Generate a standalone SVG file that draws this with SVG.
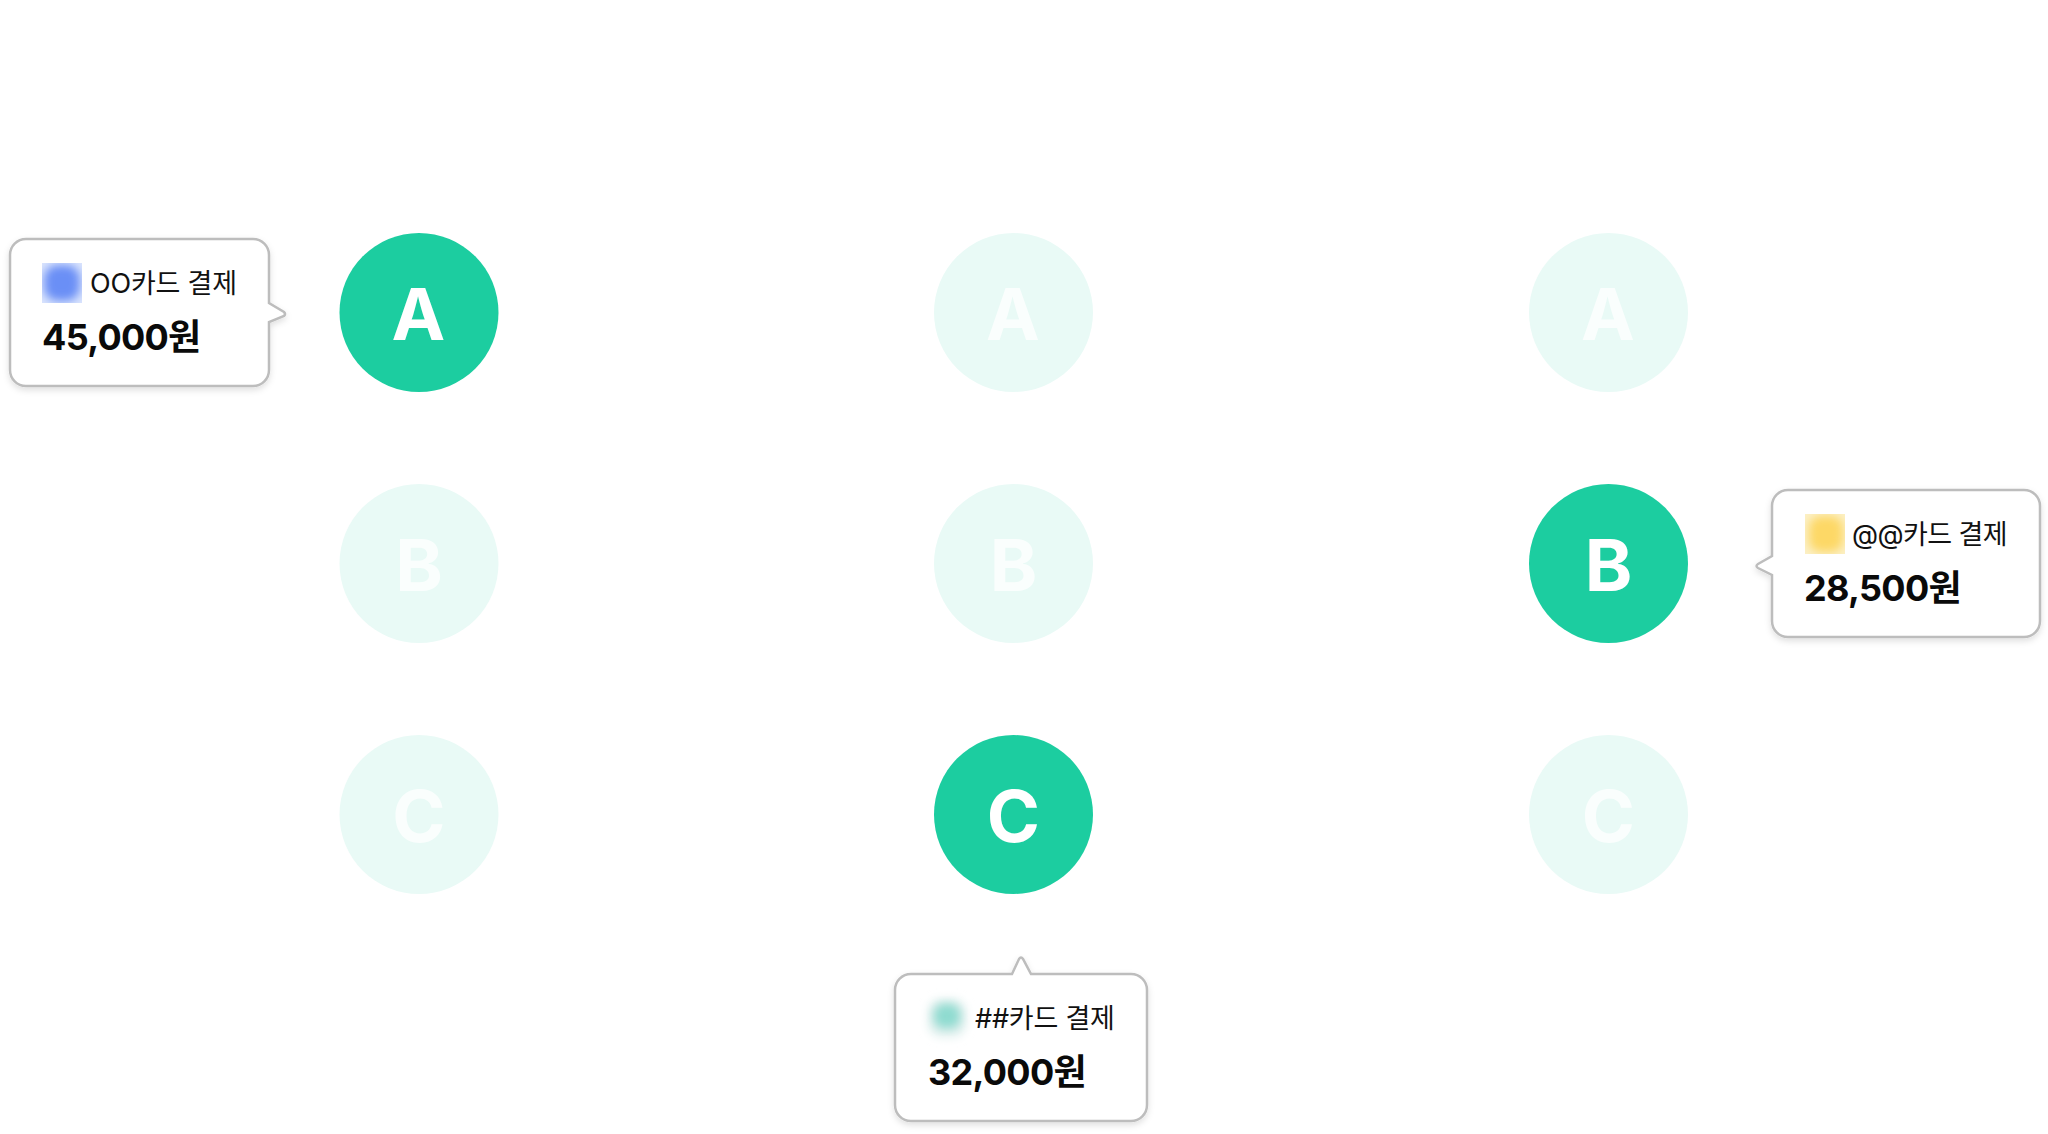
<svg xmlns="http://www.w3.org/2000/svg" width="2048" height="1134" viewBox="0 0 2048 1134">
<style>
.on{fill:#1ccda0}.off{fill:#e9faf6}
.l{font-family:Inter,"Liberation Sans","Noto Sans CJK KR",sans-serif;font-weight:700;font-size:72px;fill:#fff;text-anchor:middle}
.off+.l{fill:#fafefd}
.b{fill:#fff;stroke:#bdbdbd;stroke-width:2.500;filter:url(#sh)}
.t{font-family:Inter,"Noto Sans CJK KR",sans-serif;font-size:27px;letter-spacing:-.2px;fill:#111}
.m{font-family:Inter,"Noto Sans CJK KR",sans-serif;font-size:36px;letter-spacing:-.7px;font-weight:700;fill:#0a0a0a}
</style>
<defs>
<filter id="sh" x="-10%" y="-10%" width="120%" height="125%"><feDropShadow dx="0" dy="3" stdDeviation="3" flood-color="#000" flood-opacity=".12"/></filter>
<filter id="bl" x="-30%" y="-30%" width="160%" height="160%"><feGaussianBlur stdDeviation="5"/></filter>
<clipPath id="c1"><rect x="42" y="263" width="40" height="40"/></clipPath>
<clipPath id="c2"><rect x="1805" y="514" width="40" height="40"/></clipPath>
</defs>
<g id="a1"><circle class="on" cx="419" cy="312.500" r="79.500"/><text class="l" x="418.500" y="340">A</text></g>
<g id="a2"><circle class="off" cx="1013.500" cy="312.500" r="79.500"/><text class="l" x="1013" y="340">A</text></g>
<g id="a3"><circle class="off" cx="1608.500" cy="312.500" r="79.500"/><text class="l" x="1608" y="340">A</text></g>
<g id="b1"><circle class="off" cx="419" cy="563.500" r="79.500"/><text class="l" x="419" y="591">B</text></g>
<g id="b2"><circle class="off" cx="1013.500" cy="563.500" r="79.500"/><text class="l" x="1013.500" y="591">B</text></g>
<g id="b3"><circle class="on" cx="1608.500" cy="563.500" r="79.500"/><text class="l" x="1608.500" y="591">B</text></g>
<g id="c1n"><circle class="off" cx="419" cy="814.500" r="79.500"/><text class="l" x="419" y="842">C</text></g>
<g id="c2n"><circle class="on" cx="1013.500" cy="814.500" r="79.500"/><text class="l" x="1013.500" y="842">C</text></g>
<g id="c3n"><circle class="off" cx="1608.500" cy="814.500" r="79.500"/><text class="l" x="1608.500" y="842">C</text></g>
<g id="tip-oo">
<path class="b" d="M26 239H253a16 16 0 0 1 16 16V303L284 312Q286 314 284 316L269 322V370a16 16 0 0 1-16 16H26a16 16 0 0 1-16-16V255a16 16 0 0 1 16-16Z"/>
<g clip-path="url(#c1)"><rect x="42" y="263" width="40" height="40" fill="#dbe5fd"/><rect x="44" y="265" width="36" height="36" rx="14" fill="#6a8ff6" filter="url(#bl)"/></g>
<text class="t" x="90" y="293">OO카드 결제</text><text class="m" x="42" y="350">45,000원</text>
</g>
<g id="tip-at">
<path class="b" d="M1788 490H2024a16 16 0 0 1 16 16V621a16 16 0 0 1-16 16H1788a16 16 0 0 1-16-16V575L1758 568Q1755 566 1758 564L1772 556V506a16 16 0 0 1 16-16Z"/>
<g clip-path="url(#c2)"><rect x="1805" y="514" width="40" height="40" fill="#fcf0c6"/><rect x="1809" y="516" width="34" height="36" rx="12" fill="#fdd866" filter="url(#bl)"/></g>
<text class="t" x="1852" y="544" style="letter-spacing:-.6px">@@카드 결제</text><text class="m" x="1804" y="601">28,500원</text>
</g>
<g id="tip-hash">
<path class="b" d="M911 974H1012L1019 959Q1021 956 1023 959L1031 974H1131a16 16 0 0 1 16 16V1105a16 16 0 0 1-16 16H911a16 16 0 0 1-16-16V990a16 16 0 0 1 16-16Z"/>
<g><rect x="928" y="999" width="38" height="38" rx="14" fill="#dfefed" filter="url(#bl)"/><rect x="934" y="1004" width="26" height="24" rx="10" fill="#8fdbd0" filter="url(#bl)"/></g>
<text class="t" x="975" y="1028">##카드 결제</text><text class="m" x="928" y="1085">32,000원</text>
</g>
</svg>
